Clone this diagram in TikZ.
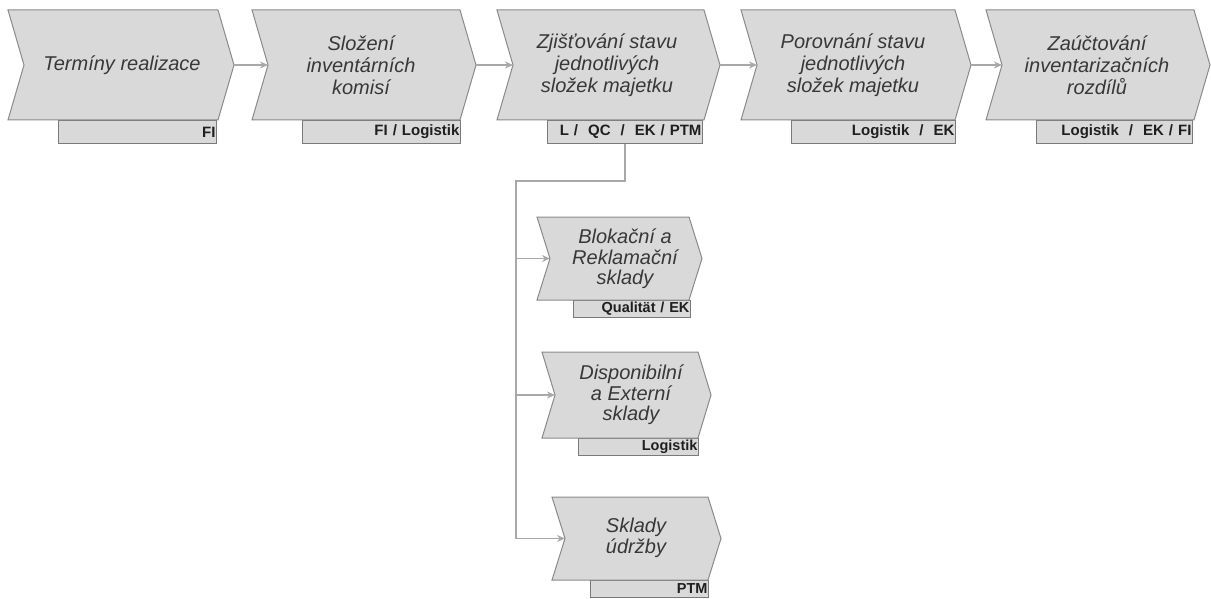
\documentclass[tikz,border=0pt]{standalone}
\usepackage{fontspec}
\setmainfont{Liberation Sans}
\usetikzlibrary{arrows.meta}

\definecolor{stepfill}{HTML}{D9D9D9}
\definecolor{stepline}{HTML}{8A8A8A}
\definecolor{tagfill}{HTML}{D9D9D9}
\definecolor{tagline}{HTML}{7A7A7A}
\definecolor{flow}{HTML}{A8A8A8}
\definecolor{steptext}{HTML}{383838}

% chevron body: #1 left x, #2 top y, #3 bottom y, #4 body width, #5 point depth
\newcommand{\chevbody}[5]{%
  \path[chev] (#1,#2) -- ({#1+#4},#2) -- ({#1+#4+#5},{(#2+#3)/2})
    -- ({#1+#4},#3) -- (#1,#3) -- ({#1+#5},{(#2+#3)/2}) -- cycle;
}

\begin{document}
\begin{tikzpicture}[x=1pt,y=-1pt,
  chev/.style={draw=stepline, fill=stepfill, line width=1pt, line join=miter},
  steptxt/.style={font=\fontsize{20}{22}\selectfont\itshape, text=steptext,
    align=center, inner sep=0pt},
  subtxt/.style={font=\fontsize{20}{20.5}\selectfont\itshape, text=steptext,
    align=center, inner sep=0pt},
  tag/.style={draw=tagline, fill=tagfill, line width=0.9pt,
    font=\fontsize{15}{15}\selectfont\bfseries, text=black!88,
    align=right, inner xsep=1pt, inner ysep=0pt, anchor=north west},
  toptag/.style={tag, minimum height=23pt},
  subtag/.style={tag, minimum height=17pt, font=\fontsize{14.5}{14.5}\selectfont\bfseries},
  flowline/.style={draw=flow, line width=1.2pt},
  flowarrow/.style={flowline, -{Stealth[length=8pt,width=7pt]}}]

\useasboundingbox (0,0) rectangle (1211,599);

% ---- role tags (drawn first, the chevrons overlap their top edge)
\node[toptag, text width=156pt] (tag1) at (58,120)   {FI};
\node[toptag, text width=156pt] (tag2) at (302,120)  {FI / Logistik};
\node[toptag, text width=153pt] (tag3) at (547,120)  {L /~~QC~~/~~EK / PTM};
\node[toptag, text width=162pt] (tag4) at (791,120)  {Logistik~~/~~EK};
\node[toptag, text width=154pt] (tag5) at (1036,120) {Logistik~~/~~EK / FI};

\node[subtag, text width=115pt] (tagA) at (573,300) {Qualität / EK};
\node[subtag, text width=118pt] (tagB) at (578,438) {Logistik};
\node[subtag, text width=116pt] (tagC) at (590,580) {PTM};

% ---- main process chain
\chevbody{8}{10}{120}{210}{16}
\chevbody{252}{10}{120}{208}{16}
\chevbody{497}{10}{120}{207}{16}
\chevbody{741}{10}{120}{214}{16}
\chevbody{986}{10}{120}{208}{16}

\coordinate (tip1) at (234,65);   \coordinate (in2) at (268,65);
\coordinate (tip2) at (476,65);   \coordinate (in3) at (513,65);
\coordinate (tip3) at (720,65);   \coordinate (in4) at (757,65);
\coordinate (tip4) at (971,65);   \coordinate (in5) at (1002,65);

\node[steptxt] (s1) at (122,65)  {Termíny realizace};
\node[steptxt] (s2) at (361,65)  {Složení\\inventárních\\komisí};
\node[steptxt] (s3) at (607,65)  {Zjišťování stavu\\jednotlivých\\složek majetku};
\node[steptxt] (s4) at (853,65)  {Porovnání stavu\\jednotlivých\\složek majetku};
\node[steptxt] (s5) at (1097,65) {Zaúčtování\\inventarizačních\\rozdílů};

% ---- sub-processes of the stock-taking step
\chevbody{537}{217}{300}{152}{13}
\chevbody{542}{352}{438}{156}{13}
\chevbody{552}{497}{580}{156}{13}

\coordinate (inA) at (550,258.5);
\coordinate (inB) at (555,395);
\coordinate (inC) at (565,538.5);

\node[subtxt] (sA) at (625,259) {Blokační a\\Reklamační\\sklady};
\node[subtxt] (sB) at (631,395) {Disponibilní\\a Externí\\sklady};
\node[subtxt] (sC) at (636,538) {Sklady\\údržby};

% ---- connectors
\draw[flowarrow] (tip1) -- (in2);
\draw[flowarrow] (tip2) -- (in3);
\draw[flowarrow] (tip3) -- (in4);
\draw[flowarrow] (tip4) -- (in5);

\coordinate (bend) at (516,181);
\draw[flowline] (tag3.south) |- (bend) -- (bend |- inC);
\draw[flowarrow] (bend |- inA) -- (inA);
\draw[flowarrow] (bend |- inB) -- (inB);
\draw[flowarrow] (bend |- inC) -- (inC);
\end{tikzpicture}
\end{document}
